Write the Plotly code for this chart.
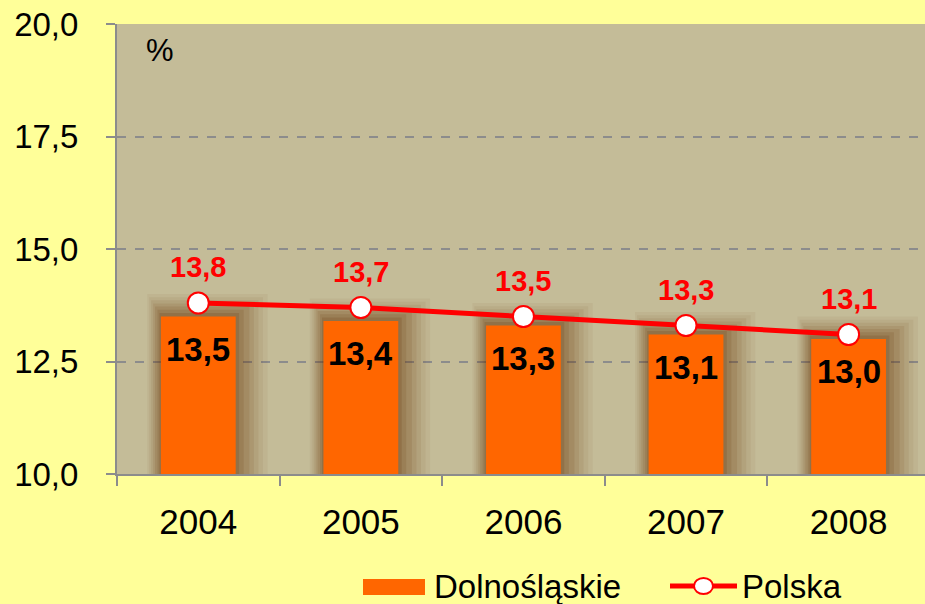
import plotly.graph_objects as go

years = ["2004", "2005", "2006", "2007", "2008"]
dolnoslaskie = [13.5, 13.4, 13.3, 13.1, 13.0]
polska = [13.8, 13.7, 13.5, 13.3, 13.1]
y_ticks = [10.0, 12.5, 15.0, 17.5, 20.0]

FONT = "Liberation Sans, Arial, sans-serif"
ORANGE = "#FF6600"
RED = "#FF0000"

def fmt(v):
    return f"{v:.1f}".replace(".", ",")

fig = go.Figure()

# soft shadow (glow) layers behind bars
layers = [(0.74, 0.05, 0.50), (0.70, 0.06, 0.43), (0.66, 0.08, 0.36),
          (0.62, 0.09, 0.29), (0.58, 0.11, 0.22), (0.53, 0.13, 0.15), (0.49, 0.16, 0.08)]
for w, a, dy in layers:
    fig.add_trace(go.Bar(
        x=years, y=[v + dy - 10 for v in dolnoslaskie], base=10,
        width=w, offset=-0.23 - (w - 0.46) * 0.3,
        marker=dict(color=f"rgba(100,45,0,{a})", line=dict(width=0)),
        showlegend=False, hoverinfo="skip"))

fig.add_trace(go.Bar(
    x=years, y=[v - 10 for v in dolnoslaskie], base=10,
    width=0.46, offset=-0.23,
    marker=dict(color=ORANGE, line=dict(width=0)),
    name="Dolnośląskie", showlegend=False))

fig.add_trace(go.Scatter(
    x=years, y=polska, mode="lines+markers",
    line=dict(color=RED, width=5),
    marker=dict(symbol="circle", size=21, color="white", line=dict(color=RED, width=2)),
    name="Polska", showlegend=False))

annotations = []
for i, v in enumerate(dolnoslaskie):
    annotations.append(dict(x=i, y=v, xref="x", yref="y", text=f"<b>{fmt(v)}</b>",
                            showarrow=False, yanchor="top", yshift=-12,
                            font=dict(family=FONT, size=33, color="black")))
for i, v in enumerate(polska):
    annotations.append(dict(x=i, y=v, xref="x", yref="y", text=f"<b>{fmt(v)}</b>",
                            showarrow=False, yanchor="bottom", yshift=18,
                            font=dict(family=FONT, size=29, color=RED)))
annotations.append(dict(x=0.033, y=0.985, xref="paper", yref="paper", text="%",
                        showarrow=False, xanchor="left", yanchor="top",
                        font=dict(family=FONT, size=31, color="black")))

W, H = 925, 604
L, R, T, B = 117, 0, 24, 130
pw, ph = W - L - R, H - T - B

def px(xp):
    return (xp - L) / pw

def py(yp):
    return (H - B - yp) / ph

# custom legend
annotations.append(dict(x=px(432), y=py(586), xref="paper", yref="paper", text="Dolnośląskie",
                        showarrow=False, xanchor="left", yanchor="middle",
                        font=dict(family=FONT, size=33, color="black")))
annotations.append(dict(x=px(740), y=py(586), xref="paper", yref="paper", text="Polska",
                        showarrow=False, xanchor="left", yanchor="middle",
                        font=dict(family=FONT, size=33, color="black")))

shapes = [
    dict(type="rect", xref="paper", yref="paper", x0=px(363), x1=px(425), y0=py(595), y1=py(579),
         fillcolor=ORANGE, line=dict(width=0)),
    dict(type="line", xref="paper", yref="paper", x0=px(670), x1=px(737), y0=py(586), y1=py(586),
         line=dict(color=RED, width=5)),
    dict(type="circle", xref="paper", yref="paper", x0=px(694), x1=px(713), y0=py(594), y1=py(578),
         fillcolor="white", line=dict(color=RED, width=2)),
]

fig.update_layout(
    width=W, height=H,
    margin=dict(l=L, r=R, t=T, b=B),
    paper_bgcolor="#FFFF99",
    plot_bgcolor="#C4BC98",
    barmode="overlay",
    separators=", ",
    showlegend=False,
    annotations=annotations,
    shapes=shapes,
    font=dict(family=FONT, color="black"),
    xaxis=dict(
        type="category", range=[-0.5, 4.5 - 0.03],
        showline=True, linecolor="#8C8C8C", linewidth=2,
        ticks="outside", tickson="boundaries", ticklen=10, tickcolor="#8C8C8C", tickwidth=2,
        tickfont=dict(family=FONT, size=35, color="black"),
        showgrid=False, ticklabelstandoff=16,
    ),
    yaxis=dict(
        range=[10, 20], tickvals=y_ticks, tickformat=".1f",
        showline=True, linecolor="#8C8C8C", linewidth=2,
        ticks="outside", ticklen=9, tickcolor="#8C8C8C", tickwidth=2,
        tickfont=dict(family=FONT, size=33, color="black"),
        showgrid=True, gridcolor="#8C8C8C", griddash="dash", gridwidth=1.5,
        zeroline=False, ticklabelstandoff=21,
    ),
)

fig.write_html("out.html", config={"displayModeBar": False},
               post_script="document.body.style.margin='0';document.body.style.padding='0';document.body.style.overflow='hidden';")
